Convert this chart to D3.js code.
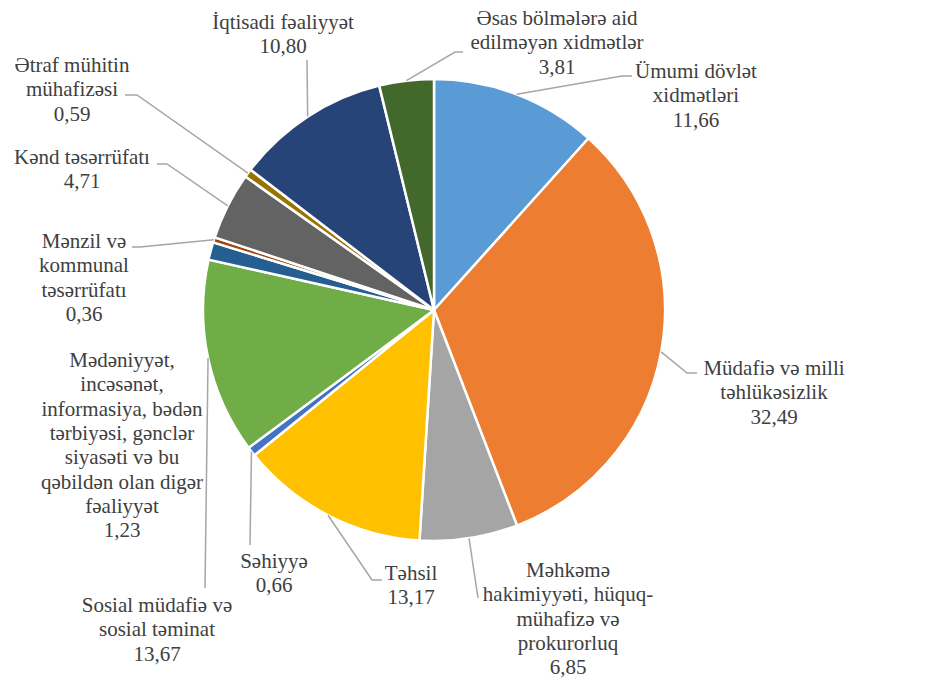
<!DOCTYPE html>
<html>
<head>
<meta charset="utf-8">
<script src="https://cdn.jsdelivr.net/npm/d3@7"></script>
<style>
  body { margin: 0; background: #fff; }
</style>
</head>
<body>
<div id="svgcontainer"></div>
<script>
var width = 944;
var height = 679;

// data
var categories = [
  "Ümumi dövlət\nxidmətləri",
  "Müdafiə və milli\ntəhlükəsizlik",
  "Məhkəmə\nhakimiyyəti, hüquq-\nmühafizə və\nprokurorluq",
  "Təhsil",
  "Səhiyyə",
  "Sosial müdafiə və\nsosial təminat",
  "Mədəniyyət,\nincəsənət,\ninformasiya, bədən\ntərbiyəsi, gənclər\nsiyasəti və bu\nqəbildən olan digər\nfəaliyyət",
  "Mənzil və\nkommunal\ntəsərrüfatı",
  "Kənd təsərrüfatı",
  "Ətraf mühitin\nmühafizəsi",
  "İqtisadi fəaliyyət",
  "Əsas bölmələrə aid\nedilməyən xidmətlər"
];
var values = [11.66, 32.49, 6.85, 13.17, 0.66, 13.67, 1.23, 0.36, 4.71, 0.59, 10.80, 3.81];
var colors = ["#5B9BD5", "#ED7D31", "#A5A5A5", "#FFC000", "#4472C4", "#70AD47",
              "#255E91", "#9E480E", "#636363", "#997300", "#264478", "#43682B"];

// label layout: centre x, first baseline, leader bends
var labelX = [696, 774, 568, 411, 274, 157, 122, 84, 82, 72, 283, 557];
var labelY = [78, 375, 577, 580, 568, 612, 367, 248, 164, 72, 29, 25];
var leaders = [
  [[622, 76], [632, 76]],
  [[687, 373], [697, 373]],
  [[478, 598]],
  [[372, 580], [382, 580]],
  [[250, 545]],
  [[205, 588]],
  null,
  [[140, 247], [132, 247]],
  [[167, 164], [157, 164]],
  [[137, 95], [125, 95]],
  [[307, 60]],
  [[455, 52], [463, 52]]
];

var cx = 434, cy = 310, radius = 231;
var lineH = 24.3;

var fmt = function(v){ return d3.format(".2f")(v).replace(".", ","); };

var svg = d3.select("#svgcontainer")
  .append("svg")
  .attr("width", width)
  .attr("height", height);

var pie = d3.pie().sort(null).value(function(d){ return d; });
var arcs = pie(values);

var arc = d3.arc().innerRadius(0).outerRadius(radius);

var g = svg.append("g")
  .attr("transform", "translate(" + cx + "," + cy + ")");

g.selectAll("path.slice")
  .data(arcs)
  .enter()
  .append("path")
  .attr("class", "slice")
  .attr("d", arc)
  .attr("fill", function(d, i){ return colors[i]; })
  .attr("stroke", "#fff")
  .attr("stroke-width", 2.5)
  .attr("stroke-linejoin", "round");

// leader lines start on the arc edge at the mid angle
svg.selectAll("path.leader")
  .data(arcs.filter(function(d, i){ return leaders[i]; }))
  .enter()
  .append("path")
  .attr("class", "leader")
  .attr("d", function(d){
    var i = d.index;
    var a = (d.startAngle + d.endAngle) / 2;
    var pts = [[cx + radius * Math.sin(a), cy - radius * Math.cos(a)]].concat(leaders[i]);
    return d3.line()(pts);
  })
  .attr("fill", "none")
  .attr("stroke", "#A6A6A6")
  .attr("stroke-width", 1.5);

// labels
var labels = svg.selectAll("text.label")
  .data(arcs)
  .enter()
  .append("text")
  .attr("class", "label")
  .attr("text-anchor", "middle")
  .attr("font-family", "'Liberation Serif', 'Times New Roman', 'DejaVu Serif', serif")
  .attr("font-size", 21)
  .attr("fill", "#404040");

labels.each(function(d, i){
  var lines = categories[i].split("\n").concat([fmt(values[i])]);
  var t = d3.select(this);
  lines.forEach(function(s, k){
    t.append("tspan")
      .attr("x", labelX[i])
      .attr("y", labelY[i] + k * lineH)
      .text(s);
  });
});
</script>
</body>
</html>
